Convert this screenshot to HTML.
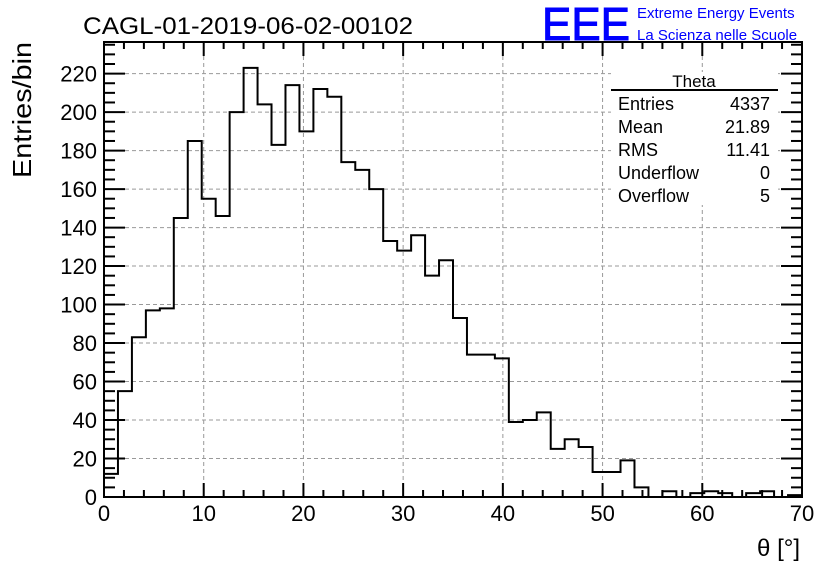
<!DOCTYPE html>
<html><head><meta charset="utf-8"><style>
body{margin:0;background:#fff;}
svg{display:block;font-family:"Liberation Sans",sans-serif;}
</style></head><body>
<svg id="c" width="836" height="572" viewBox="0 0 836 572">
<rect x="0" y="0" width="836" height="572" fill="#fff"/>
<text x="83" y="34" font-size="24" textLength="330" lengthAdjust="spacingAndGlyphs">CAGL-01-2019-06-02-00102</text>
<text x="542" y="40" font-size="46" fill="#0000ff" stroke="#0000ff" stroke-width="1" textLength="88" lengthAdjust="spacingAndGlyphs">EEE</text>
<text x="637" y="18" font-size="15" fill="#0000ff">Extreme Energy Events</text>
<text x="637" y="40" font-size="15" fill="#0000ff">La Scienza nelle Scuole</text>
<g id="grid"></g>
<g id="axes"></g>
<path id="hist" fill="none" stroke="#000" stroke-width="2"/>
<rect x="104" y="42" width="698" height="455" fill="none" stroke="#000" stroke-width="2"/>
<text transform="translate(31,110) rotate(-90)" font-size="26" text-anchor="middle" textLength="136" lengthAdjust="spacingAndGlyphs">Entries/bin</text>
<text x="800" y="556" font-size="24" text-anchor="end">θ [°]</text>
<g>
<rect x="611" y="72" width="167" height="133" fill="#fff"/>
<line x1="611" y1="90" x2="778" y2="90" stroke="#000" stroke-width="2"/>
<text x="694" y="87" font-size="17" text-anchor="middle">Theta</text>
<g font-size="18">
<text x="618" y="110">Entries</text><text x="770" y="110" text-anchor="end">4337</text>
<text x="618" y="133">Mean</text><text x="770" y="133" text-anchor="end">21.89</text>
<text x="618" y="156">RMS</text><text x="770" y="156" text-anchor="end">11.41</text>
<text x="618" y="179">Underflow</text><text x="770" y="179" text-anchor="end">0</text>
<text x="618" y="202">Overflow</text><text x="770" y="202" text-anchor="end">5</text>
</g></g>
</svg>
<script>
const binWidth = 1.4;
const counts = [12,55,83,97,98,145,185,155,146,200,223,204,183,214,190,212,208,174,170,160,133,128,136,115,123,93,74,74,72,39,40,44,25,30,26,13,13,19,5,0,3,0,2,3,2,0,2,3,0,1];
const xTicks = [0,10,20,30,40,50,60,70];
const yTicks = [0,20,40,60,80,100,120,140,160,180,200,220];
const X0=104,X1=802,Y0=497,Y1=42;
const sx=v=>X0+(v-0)/70*(X1-X0);
const sy=v=>Y0-v*1.9245;
const NS="http://www.w3.org/2000/svg";
const grid=document.getElementById('grid'), axes=document.getElementById('axes');
function ln(p,x1,y1,x2,y2,st,dash){const l=document.createElementNS(NS,'line');l.setAttribute('x1',x1);l.setAttribute('y1',y1);l.setAttribute('x2',x2);l.setAttribute('y2',y2);l.setAttribute('stroke',st);l.setAttribute('stroke-width',dash?1:2);if(dash)l.setAttribute('stroke-dasharray','4,3');p.appendChild(l);return l;}
function tx(x,y,s,anchor){const t=document.createElementNS(NS,'text');t.setAttribute('x',x);t.setAttribute('y',y);t.setAttribute('font-size','22');t.setAttribute('text-anchor',anchor);t.textContent=s;axes.appendChild(t);return t;}
xTicks.forEach(v=>{const x=sx(v);
 if(v>0&&v<70){const g=ln(grid,x,Y1,x,Y0,'#999',true);
 
 }
 ln(axes,x,Y0,x,Y0-14,'#000');ln(axes,x,Y1,x,Y1+14,'#000');
 const t=tx(x,521,String(v),'middle');
 
 
});
for(let v=0;v<=70;v+=2){if(v%10){const x=sx(v);ln(axes,x,Y0,x,Y0-7,'#000');ln(axes,x,Y1,x,Y1+7,'#000');}}
yTicks.forEach(v=>{const y=sy(v);
 if(v>0){const g=ln(grid,X0,y,X1,y,'#999',true);
 
 }
 ln(axes,X0,y,X0+21,y,'#000');ln(axes,X1,y,X1-21,y,'#000');
 const t=tx(97,y+8,String(v),'end');
 
 
});
for(let v=0;v<=235;v+=5){if(v%20){const y=sy(v);if(y<Y1)break;ln(axes,X0,y,X0+11,y,'#000');ln(axes,X1,y,X1-11,y,'#000');}}
let d='M'+sx(0)+','+sy(0);
counts.forEach((c,i)=>{d+=' L'+sx(i*binWidth)+','+sy(c)+' L'+sx((i+1)*binWidth)+','+sy(c);});
d+=' L'+sx(counts.length*binWidth)+','+sy(0);
document.getElementById('hist').setAttribute('d',d);
</script>
</body></html>
